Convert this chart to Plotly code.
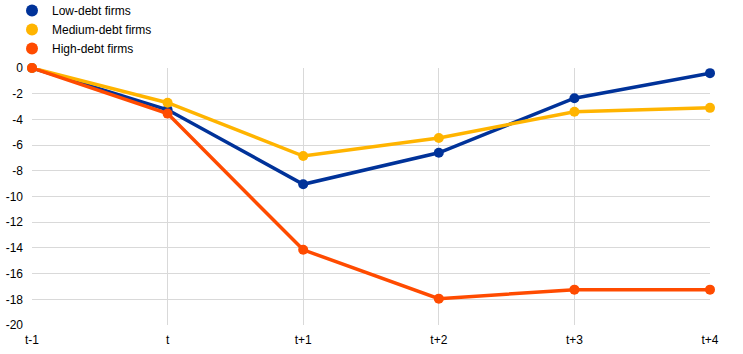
import plotly.graph_objects as go

categories = ["t-1", "t", "t+1", "t+2", "t+3", "t+4"]
low_debt = [0, -3.25, -9.05, -6.6, -2.35, -0.4]
medium_debt = [0, -2.7, -6.85, -5.45, -3.4, -3.1]
high_debt = [0, -3.55, -14.15, -17.95, -17.25, -17.25]
series_names = ["Low-debt firms", "Medium-debt firms", "High-debt firms"]
colors = ["#003299", "#FFB400", "#FF4B00"]
y_ticks = [0, -2, -4, -6, -8, -10, -12, -14, -16, -18, -20]

fig = go.Figure()
for name, vals, col in zip(series_names, [low_debt, medium_debt, high_debt], colors):
    fig.add_trace(go.Scatter(
        x=categories, y=vals, mode="lines+markers", name=name,
        line=dict(color=col, width=3.5), marker=dict(color=col, size=10),
        showlegend=False, cliponaxis=False,
    ))
for name, col in zip(series_names, colors):
    fig.add_trace(go.Scatter(
        x=[None], y=[None], mode="markers", name=name,
        marker=dict(color=col, size=12), showlegend=True,
    ))

fig.update_layout(
    width=743, height=354,
    margin=dict(l=32, r=33, t=68, b=29, autoexpand=False),
    plot_bgcolor="white", paper_bgcolor="white",
    font=dict(family="Liberation Sans, Arial, sans-serif", size=12, color="#000000"),
    legend=dict(x=12 / 743, y=1 + 72 / 257, xref="container", yref="paper",
                xanchor="left", yanchor="top",
                font=dict(size=12), bgcolor="rgba(0,0,0,0)",
                itemwidth=30, tracegroupgap=0),
    showlegend=True,
)
fig.update_xaxes(
    type="category", range=[0, 5], showgrid=True, gridcolor="#D9D9D9", gridwidth=1,
    showline=False, zeroline=False, ticks="", tickfont=dict(size=12),
    ticklabelstandoff=6,
)
fig.update_yaxes(
    range=[-20, 0], tickvals=y_ticks, ticktext=[str(v) for v in y_ticks],
    showgrid=True, gridcolor="#D9D9D9", gridwidth=1, zeroline=False,
    showline=False, ticks="", tickfont=dict(size=12), ticklabelstandoff=8,
)
fig.write_html("out.html")
